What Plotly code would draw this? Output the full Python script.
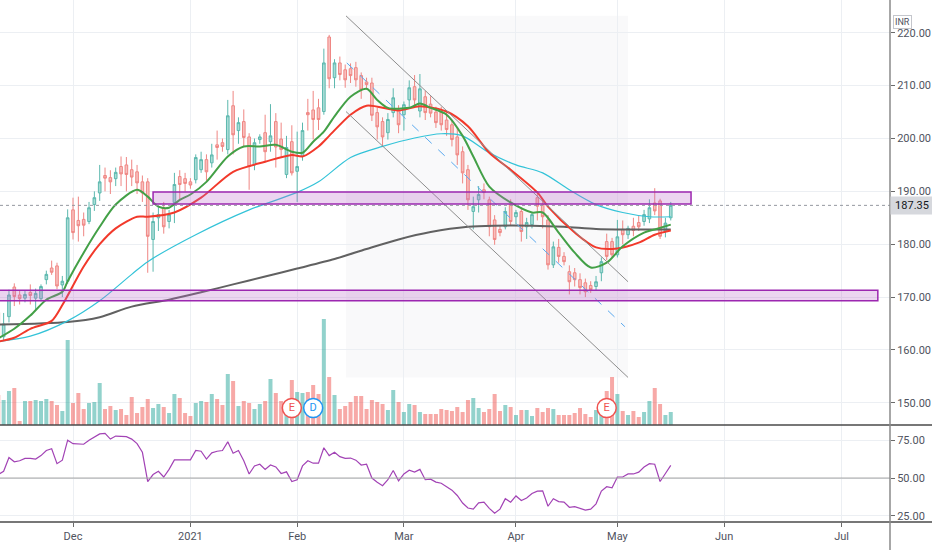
import pandas as pd
import plotly.graph_objects as go

# --- data (daily bars, NSE) ---
holidays = ["2020-11-16", "2020-11-30", "2020-12-25", "2021-01-26", "2021-03-11",
            "2021-03-29", "2021-04-02", "2021-04-14", "2021-04-21", "2021-05-13"]
first_day = "2020-11-09"
last_day = "2021-05-18"
axis_end = "2021-07-30"

opens = [167.1, 162.5, 166.3, 171.9, 170.4, 169.8, 170.9, 169.8, 169.7, 173.3,
         175.5, 175.9, 172.3, 173.0, 186.5, 184.5, 184.7, 184.3, 187.5, 189.7,
         193.0, 192.6, 192.4, 194.7, 195.0, 194.1, 193.7, 191.8, 191.8, 180.9,
         185.0, 186.9, 184.3, 187.9, 192.8, 192.4, 191.8, 192.2, 194.1, 196.0,
         195.4, 198.8, 199.2, 197.9, 206.2, 201.5, 203.2, 200.3, 195.0, 199.8,
         201.1, 199.4, 203.2, 199.9, 193.2, 199.4, 193.8, 196.6, 204.9, 205.4,
         205.8, 205.1, 219.2, 211.5, 214.3, 213.0, 213.2, 213.4, 211.9, 210.7,
         210.5, 204.9, 203.2, 201.1, 204.9, 205.4, 204.5, 207.3, 209.8, 205.2,
         207.9, 206.5, 205.0, 205.0, 203.5, 202.6, 200.3, 197.5, 194.1, 186.2,
         188.4, 190.3, 188.4, 184.6, 182.8, 183.3, 187.5, 185.2, 186.2, 183.3,
         183.7, 188.8, 187.5, 184.6, 176.1, 179.4, 177.7, 174.8, 174.6, 173.3,
         172.7, 172.2, 172.0, 174.6, 180.5, 180.5, 178.0, 182.8, 181.8, 183.4,
         184.1, 184.3, 184.8, 187.8, 188.2, 182.5, 185.0]
highs = [168.2, 167.0, 171.4, 172.6, 171.2, 171.3, 172.4, 171.6, 172.4, 175.0,
         176.9, 176.5, 174.0, 186.6, 188.8, 189.0, 186.0, 188.0, 190.0, 195.0,
         194.5, 194.0, 194.5, 196.6, 196.5, 196.0, 195.0, 193.0, 192.5, 186.0,
         187.0, 188.0, 186.5, 193.5, 194.0, 193.5, 192.5, 197.0, 197.5, 197.0,
         199.0, 201.5, 200.0, 207.3, 209.0, 204.0, 205.5, 201.0, 200.0, 200.8,
         204.5, 206.5, 204.8, 203.0, 200.5, 202.5, 201.3, 203.0, 207.5, 209.0,
         207.5, 217.0, 219.6, 215.0, 215.5, 214.0, 214.2, 214.5, 212.5, 211.5,
         211.5, 205.8, 204.0, 204.8, 209.5, 206.3, 207.0, 211.0, 212.0, 212.2,
         209.0, 208.0, 206.0, 206.0, 205.0, 203.5, 202.0, 198.5, 195.0, 189.0,
         191.0, 191.5, 189.0, 185.5, 183.5, 187.0, 188.5, 186.5, 187.0, 185.0,
         186.0, 190.0, 188.5, 185.5, 180.5, 181.0, 178.5, 176.0, 175.5, 174.5,
         173.5, 173.0, 174.0, 177.5, 182.0, 181.2, 184.6, 184.5, 183.5, 185.0,
         185.5, 186.5, 188.5, 190.6, 188.6, 185.0, 188.0]
lows = [161.5, 161.8, 165.2, 168.3, 168.6, 169.0, 168.6, 167.6, 169.2, 172.4,
        174.2, 171.5, 170.0, 172.5, 180.9, 180.5, 181.5, 183.8, 186.3, 188.2,
        190.0, 189.5, 191.0, 191.0, 190.0, 191.0, 189.5, 188.0, 174.6, 174.8,
        182.5, 182.0, 183.0, 184.0, 188.5, 190.0, 190.5, 191.5, 193.5, 192.0,
        194.5, 196.0, 197.5, 197.0, 197.0, 199.0, 198.5, 190.3, 194.0, 199.0,
        195.5, 197.5, 194.5, 196.5, 192.5, 193.0, 188.0, 195.8, 201.5, 199.8,
        201.6, 204.5, 209.5, 209.5, 211.0, 209.6, 210.5, 209.8, 207.5, 209.3,
        203.3, 199.8, 198.5, 199.8, 204.0, 201.0, 201.5, 206.0, 206.0, 204.0,
        203.5, 204.0, 202.0, 201.5, 200.5, 198.5, 195.0, 191.5, 186.5, 182.8,
        186.0, 188.5, 181.5, 179.9, 181.5, 182.8, 183.5, 183.8, 180.5, 181.0,
        183.0, 184.5, 183.0, 175.2, 175.5, 176.5, 176.0, 170.5, 172.0, 170.5,
        170.0, 170.8, 171.3, 173.0, 177.0, 177.5, 177.5, 180.0, 181.0, 181.5,
        182.5, 183.5, 184.0, 185.5, 181.0, 181.3, 184.5]
closes = [162.2, 164.9, 170.4, 170.1, 169.7, 170.5, 170.3, 170.7, 172.0, 174.3,
          174.7, 172.1, 173.0, 185.0, 182.2, 183.5, 183.6, 186.9, 188.8, 191.8,
          192.5, 191.8, 193.6, 193.3, 193.2, 192.7, 191.6, 189.7, 181.5, 184.3,
          185.6, 183.3, 185.6, 191.3, 191.3, 191.5, 191.2, 196.4, 196.0, 193.7,
          196.9, 198.3, 198.5, 204.3, 200.7, 203.0, 200.2, 194.7, 199.2, 200.3,
          197.5, 200.5, 198.4, 197.9, 198.3, 193.5, 194.7, 201.5, 204.5, 203.6,
          203.6, 214.3, 211.3, 214.3, 212.1, 211.1, 211.9, 211.1, 209.2, 210.2,
          204.4, 202.2, 200.3, 203.6, 207.7, 202.6, 206.4, 209.6, 207.3, 209.4,
          204.9, 204.8, 203.0, 202.6, 201.7, 199.8, 196.9, 193.5, 188.4, 187.1,
          189.4, 189.8, 183.3, 180.9, 182.2, 186.2, 184.3, 186.0, 182.4, 184.1,
          185.6, 187.2, 185.2, 176.1, 179.5, 177.7, 176.7, 172.9, 173.3, 171.8,
          171.0, 171.4, 172.9, 176.7, 177.7, 178.0, 181.4, 181.8, 183.0, 182.6,
          183.3, 185.6, 186.9, 186.3, 181.5, 184.0, 187.35]
# volume in thousand shares
volumes = [300, 250, 340, 370, 40, 240, 240, 250, 240, 260,
           240, 200, 140, 850, 220, 320, 160, 220, 230, 420,
           160, 190, 150, 160, 100, 280, 120, 180, 260, 170,
           210, 180, 120, 310, 270, 120, 90, 220, 240, 230,
           310, 260, 200, 510, 440, 190, 240, 220, 160, 210,
           240, 460, 320, 240, 240, 450, 330, 320, 330, 400,
           310, 1060, 480, 300, 160, 190, 230, 290, 290, 160,
           250, 230, 210, 150, 350, 230, 130, 210, 200, 130,
           110, 110, 110, 160, 150, 140, 180, 130, 250, 270,
           170, 130, 160, 310, 140, 200, 180, 100, 150, 150,
           90, 170, 130, 170, 160, 100, 100, 100, 120, 170,
           110, 80, 150, 190, 340, 480, 310, 140, 100, 140,
           80, 130, 240, 370, 210, 100, 130]
rsi = [52.3, 54.5, 63.6, 60.7, 61.4, 63.0, 63.0, 62.5, 64.8, 68.2,
       69.3, 59.5, 61.8, 75.0, 72.7, 72.3, 72.3, 75.0, 77.3, 79.1,
       79.5, 75.7, 77.7, 77.7, 77.3, 75.7, 72.7, 67.0, 47.7, 52.3,
       54.5, 50.7, 55.7, 62.0, 62.0, 62.0, 62.0, 68.2, 67.7, 62.5,
       66.6, 67.7, 68.2, 73.9, 66.4, 68.2, 61.4, 52.7, 58.0, 59.1,
       55.7, 58.6, 57.3, 53.0, 54.1, 47.7, 48.9, 58.0, 61.4, 59.8,
       59.8, 70.0, 64.8, 67.0, 64.1, 63.0, 63.2, 61.8, 58.6, 59.1,
       50.0, 47.3, 45.0, 48.9, 55.0, 48.2, 52.7, 55.2, 53.9, 55.7,
       48.9, 49.3, 47.3, 46.6, 44.3, 42.0, 38.5, 33.5, 30.2, 29.5,
       33.6, 34.1, 30.0, 26.8, 29.5, 36.4, 34.1, 38.2, 35.2, 36.8,
       39.8, 41.4, 41.6, 31.4, 36.4, 34.5, 34.1, 30.7, 31.1, 30.0,
       28.9, 29.5, 33.0, 41.4, 44.3, 43.6, 50.7, 50.7, 52.7, 52.7,
       53.9, 57.3, 59.5, 59.1, 47.7, 53.0, 58.4]

# moving averages, read at a few bars each
green_idx = [0, 3, 6, 9, 12, 13, 16, 19, 22, 26, 28, 30, 32, 34, 36, 39, 43, 46, 49, 52,
             55, 57, 59, 61, 63, 66, 69, 71, 73, 77, 79, 81, 84, 87, 89, 92, 96, 100, 102, 105,
             108, 111, 114, 117, 121, 123, 126]
green_val = [162.2, 164.0, 166.5, 169.5, 171.0, 173.0, 178.4, 183.3, 187.5, 190.3,
             189.0, 187.1, 186.9, 188.4, 189.4, 191.8, 196.6, 198.5, 198.5, 198.8,
             197.5, 197.3, 199.4, 201.3, 204.2, 207.9, 209.4, 207.3, 205.8, 205.8,
             206.6, 205.8, 204.5, 200.5, 196.6, 190.9, 187.9, 186.0, 186.0, 182.2,
             178.4, 175.6, 176.5, 179.6, 182.2, 182.8, 183.7]
red_idx = [0, 3, 6, 10, 12, 16, 19, 22, 26, 28, 33, 38, 44, 50, 55, 57, 60, 62, 66, 69,
           75, 79, 84, 88, 92, 96, 101, 103, 108, 112, 116, 120, 123, 126]
red_val = [161.6, 162.3, 164.0, 165.5, 168.5, 175.8, 180.0, 183.0, 185.2, 185.2,
           186.0, 188.8, 193.7, 195.6, 196.9, 196.6, 198.5, 200.5, 204.5, 206.2,
           205.3, 206.1, 205.1, 202.3, 197.3, 194.1, 189.8, 187.1, 182.2, 179.4,
           179.2, 180.3, 181.8, 182.6]
cyan_idx = [0, 6, 13, 19, 25, 28, 37, 47, 56, 60, 66, 72, 78, 83, 87, 92, 97, 102, 107, 112,
            117, 122, 126]
cyan_val = [161.6, 162.6, 165.5, 169.3, 174.3, 176.7, 181.8, 186.5, 189.8, 191.8,
            196.4, 198.5, 200.1, 200.9, 200.5, 197.3, 195.0, 193.5, 190.3, 187.5,
            186.0, 185.2, 185.2]
gray_idx = [0, 13, 19, 25, 32, 38, 44, 50, 56, 63, 69, 75, 81, 88, 93, 100, 106, 112, 118, 126]
gray_val = [164.8, 165.3, 166.2, 168.2, 169.5, 170.9, 172.4, 173.9, 175.4, 177.2,
            179.1, 180.9, 182.3, 183.3, 183.5, 183.5, 183.3, 182.9, 182.8, 182.8]

# drawings: (bar index, price)
channel_top = [(65.15, 223.2), (118.0, 172.9)]
channel_bottom = [(65.15, 205.1), (118.0, 154.8)]
channel_mid = [(65.3, 214.3), (117.4, 164.4)]
zone_upper = (29.0, 129.8, 187.6, 189.9)
zone_lower = (-2.0, 164.8, 169.3, 171.3)
events = [(55, "E", "#ef5350"), (59, "D", "#2196f3"), (114, "E", "#ef5350")]
last_price = 187.35


def build_days():
    days = pd.bdate_range(first_day, last_day)
    days = days[~days.isin(pd.to_datetime(holidays))]
    future = pd.bdate_range(pd.Timestamp(last_day) + pd.Timedelta(days=1), axis_end)
    return days, days.append(future)


def month_ticks(all_days):
    vals, text = [], []
    seen = set()
    for i, d in enumerate(all_days):
        key = (d.year, d.month)
        if key in seen:
            continue
        seen.add(key)
        if i == 0:
            continue
        vals.append(i)
        text.append(str(d.year) if d.month == 1 else d.strftime("%b"))
    return vals, text


def crear_grafico():
    days, all_days = build_days()
    x = list(range(len(days)))
    tickvals, ticktext = month_ticks(all_days)

    up_line, up_fill = "#5cb8ae", "#aadcd6"
    dn_line, dn_fill = "#ef8683", "#f8bfbd"
    vol_colors = ["rgba(38,166,154,0.5)" if c >= o else "rgba(239,83,80,0.5)"
                  for o, c in zip(opens, closes)]

    fig = go.Figure()
    fig.add_trace(go.Bar(x=x, y=volumes, marker_color=vol_colors, marker_line_width=0,
                         width=0.75, yaxis="y3", hoverinfo="skip"))
    fig.add_trace(go.Candlestick(
        x=x, open=opens, high=highs, low=lows, close=closes,
        increasing=dict(line=dict(color=up_line, width=1), fillcolor=up_fill),
        decreasing=dict(line=dict(color=dn_line, width=1), fillcolor=dn_fill),
        whiskerwidth=0))
    for idx, val, color, width in [(gray_idx, gray_val, "#616161", 2),
                                   (cyan_idx, cyan_val, "#33c3d8", 1.2),
                                   (red_idx, red_val, "#f2392b", 2),
                                   (green_idx, green_val, "#43a047", 2)]:
        fig.add_trace(go.Scatter(x=idx, y=val, mode="lines",
                                 line=dict(color=color, width=width, shape="spline", smoothing=0.8),
                                 hoverinfo="skip"))

    # earnings / dividend flags on the volume pane
    fig.add_trace(go.Scatter(
        x=[e[0] for e in events], y=[170] * len(events), yaxis="y3",
        mode="markers+text", text=[e[1] for e in events],
        textfont=dict(color=[e[2] for e in events], size=11, family="Roboto"),
        marker=dict(size=19, color="white", line=dict(color=[e[2] for e in events], width=1.5)),
        hoverinfo="skip"))

    # RSI pane
    fig.add_trace(go.Scatter(x=x, y=rsi, xaxis="x2", yaxis="y2", mode="lines",
                             line=dict(color="#a243b5", width=1.2), hoverinfo="skip"))

    shapes = []
    # light band behind the channel
    shapes.append(dict(type="rect", xref="x", yref="y", layer="below",
                       x0=channel_top[0][0], x1=channel_top[1][0],
                       y0=channel_bottom[1][1], y1=channel_top[0][1],
                       fillcolor="rgba(120,123,134,0.045)", line=dict(width=0)))
    for line in (channel_top, channel_bottom):
        shapes.append(dict(type="line", xref="x", yref="y",
                           x0=line[0][0], y0=line[0][1], x1=line[1][0], y1=line[1][1],
                           line=dict(color="#8d8d8d", width=1)))
    shapes.append(dict(type="line", xref="x", yref="y",
                       x0=channel_mid[0][0], y0=channel_mid[0][1],
                       x1=channel_mid[1][0], y1=channel_mid[1][1],
                       line=dict(color="#5aa9ef", width=1, dash="dash")))
    for z in (zone_upper, zone_lower):
        shapes.append(dict(type="rect", xref="x", yref="y", x0=z[0], x1=z[1], y0=z[2], y1=z[3],
                           fillcolor="rgba(186,104,200,0.28)",
                           line=dict(color="#9c27b0", width=1.5)))
    # last price dotted line
    shapes.append(dict(type="line", xref="paper", yref="y", x0=0, x1=1,
                       y0=last_price, y1=last_price,
                       line=dict(color="#9598a1", width=1, dash="dot")))
    # rsi middle line
    shapes.append(dict(type="line", xref="paper", yref="y2", x0=0, x1=1, y0=50, y1=50,
                       line=dict(color="#a3a3a3", width=1)))
    # pane separator and bottom border across the full width
    for yy in (0.1858, 0.0):
        shapes.append(dict(type="line", xref="paper", yref="paper", x0=0, x1=1.048,
                           y0=yy, y1=yy, line=dict(color="#4a4a4a", width=1.5)))
    shapes.append(dict(type="line", xref="paper", yref="paper", x0=1, x1=1,
                       y0=-0.06, y1=1.0, line=dict(color="#8a8a8a", width=1.5)))

    font = dict(family="Roboto", size=11, color="#50535e")
    grid = "#eceff3"
    fig.update_layout(
        width=932, height=550,
        margin=dict(l=0, r=42, t=0, b=28, autoexpand=False),
        plot_bgcolor="white", paper_bgcolor="white",
        showlegend=False, hovermode=False,
        font=font,
        shapes=shapes,
        xaxis=dict(domain=[0, 1], range=[0.32, 167.08], anchor="y",
                   tickvals=tickvals, showticklabels=False, ticks="",
                   showgrid=True, gridcolor=grid, zeroline=False,
                   rangeslider=dict(visible=False)),
        xaxis2=dict(domain=[0, 1], matches="x", anchor="y2",
                    tickvals=tickvals, ticktext=ticktext, tickfont=font,
                    ticks="outside", ticklen=4, tickcolor="#6a6a6a",
                    showgrid=True, gridcolor=grid, zeroline=False, showline=False),
        yaxis=dict(domain=[0.1858, 1], range=[145.8, 226.2], side="right", anchor="x",
                   tickvals=[150, 160, 170, 180, 190, 200, 210, 220],
                   tickformat=".2f", tickfont=font, ticks="outside", ticklen=4,
                   tickcolor="#6a6a6a", showgrid=True, gridcolor=grid, zeroline=False),
        yaxis3=dict(domain=[0.1858, 1], overlaying="y", range=[0, 4250], visible=False),
        yaxis2=dict(domain=[0, 0.1858], range=[21, 85], side="right", anchor="x2",
                    tickvals=[25, 50, 75], tickformat=".2f", tickfont=font,
                    ticks="outside", ticklen=4, tickcolor="#6a6a6a",
                    showgrid=True, gridcolor=grid, zeroline=False),
        annotations=[
            dict(xref="paper", yref="y", x=1.0, y=last_price, xanchor="left", yanchor="middle",
                 text=f"{last_price:.2f}", showarrow=False, bgcolor="#d6d8dd",
                 font=dict(family="Roboto", size=11, color="#131722"), borderpad=2, width=38),
            dict(xref="paper", yref="paper", x=1.0247, y=0.972, text="INR", showarrow=False,
                 font=dict(family="Roboto", size=9, color="#50535e"),
                 bordercolor="#c4c6cc", borderwidth=1, borderpad=1, bgcolor="white"),
        ],
    )
    # the page body has a default 8px margin; drop it so the chart fills the window
    fig.write_html("out.html", config={"displayModeBar": False},
                   post_script="document.body.style.margin='0';")


if __name__ == "__main__":
    crear_grafico()
